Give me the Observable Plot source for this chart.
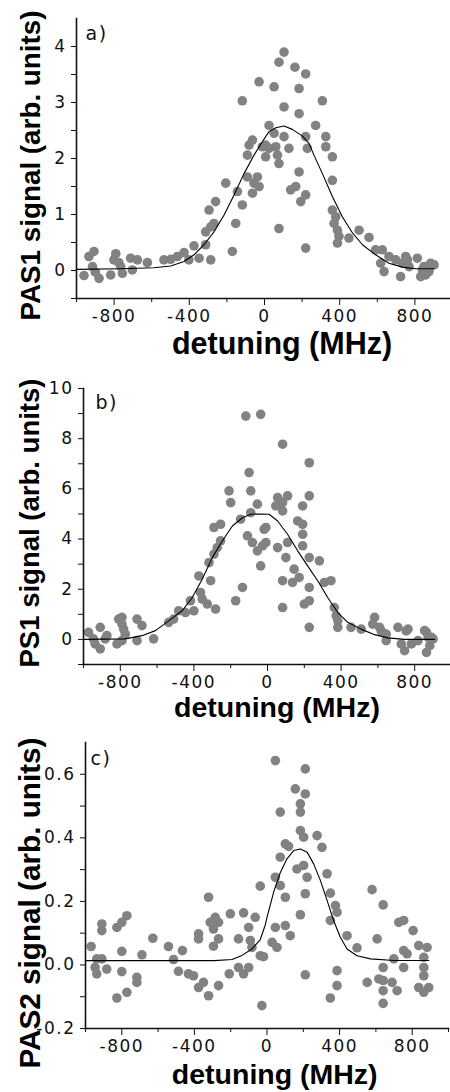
<!DOCTYPE html>
<html><head><meta charset="utf-8">
<script src="https://cdn.jsdelivr.net/npm/d3@7"></script>
<script src="https://cdn.jsdelivr.net/npm/@observablehq/plot@0.6"></script>
<style>
body{margin:0;background:#fff;}
#chart svg{display:block;}
</style></head><body><div id="chart"></div>
<script>
// ---- Shared x axis ticks ----
const xMajor = [-800, -400, 0, 400, 800];
const xMajorLabels = ["-800", "-400", "0", "400", "800"];
const xMinor = [-1000, -600, -200, 200, 600, 1000];

// ---- Panel a) PAS1 ----
const aPointX = [-960,-934,-907,-915,-880,-900,-818,-801,-791,-765,-756,-775,-712,-676,-623,-703,-535,-499,-463,-428,-402,-375,-348,-313,-286,-313,-286,-269,-295,-260,-206,-171,-153,-144,-118,-118,-91,-91,-82,-64,-56,-64,-29,-38,-29,-11,6,6,24,24,51,51,60,69,77,77,77,104,104,104,130,139,166,162,184,184,184,193,219,219,219,228,219,272,308,326,326,361,361,361,379,370,388,396,388,449,503,556,591,627,618,636,662,698,724,734,751,769,760,813,831,848,875,884,857,902,840];
const aPointY = [-0.09,0.25,0.34,0.07,-0.14,-0.03,-0.08,0.19,0.30,0.07,-0.05,0.14,0.22,0.19,0.14,0.01,0.19,0.20,0.25,0.32,0.19,0.44,0.22,0.46,0.19,0.69,0.78,0.84,1.08,1.23,1.56,0.34,0.84,1.41,1.17,3.03,2.06,1.67,2.24,2.33,1.56,1.38,3.37,1.67,1.50,2.21,2.24,2.03,2.59,2.18,3.28,2.45,2.21,2.06,1.91,3.72,0.75,3.90,2.92,2.39,2.18,1.44,1.50,3.63,2.80,3.25,1.76,1.23,1.35,3.51,2.39,2.18,0.40,2.59,3.03,2.39,2.21,2.03,1.61,1.08,0.96,0.84,0.72,0.61,0.49,0.58,0.72,0.59,0.37,0.37,0.13,-0.02,0.25,0.19,-0.11,0.13,0.25,0.07,0.19,0.22,-0.11,0.07,-0.02,0.13,-0.08,0.10,0.01];
const aFitX = [-1000,-765,-588,-499,-428,-375,-322,-269,-215,-162,-109,-56,-15,24,60,104,148,202,237,263,308,361,414,468,521,591,662,734,804,902];
const aFitY = [0.02,0.03,0.05,0.08,0.16,0.28,0.46,0.69,0.99,1.35,1.73,2.06,2.28,2.48,2.55,2.58,2.52,2.40,2.27,2.06,1.73,1.32,0.96,0.67,0.46,0.28,0.13,0.06,0.03,0.03];
const aYMajor = [0, 1, 2, 3, 4];
const aYMajorLabels = ["0", "1", "2", "3", "4"];
const aYMinor = [-0.5, 0.5, 1.5, 2.5, 3.5];

// ---- Panel b) PS1 ----
const bPointX = [-973,-946,-937,-909,-909,-882,-873,-818,-809,-791,-782,-773,-791,-791,-709,-682,-709,-619,-537,-510,-483,-446,-419,-400,-373,-364,-355,-327,-309,-282,-318,-291,-273,-255,-291,-255,-209,-200,-173,-146,-136,-118,-109,-100,-91,-91,-82,-55,-55,-37,-37,-27,-18,-9,-9,82,55,45,82,109,82,55,109,100,145,82,136,172,82,200,227,227,227,227,191,164,191,191,191,227,227,282,309,345,363,373,382,382,454,509,572,582,609,618,645,645,709,727,754,764,782,745,818,854,864,873,882,891,900,864];
const bPointY = [0.28,0.02,-0.18,0.48,-0.38,0.02,0.15,-0.18,0.81,0.88,0.41,0.21,-0.05,0.61,0.81,0.55,-0.05,0.02,0.68,0.81,1.14,1.07,1.54,1.14,2.53,1.87,1.61,1.41,2.34,1.21,3.06,3.40,3.66,3.93,4.46,4.59,5.92,5.45,1.54,4.79,2.07,8.90,4.13,6.65,5.92,5.05,3.86,5.39,3.53,8.97,2.93,3.73,4.39,4.46,3.86,7.78,5.65,5.32,5.45,5.72,5.12,3.66,3.86,3.26,2.80,2.34,2.27,2.47,1.27,1.41,1.54,0.48,7.04,5.72,5.32,4.72,4.59,4.19,3.73,3.26,2.07,3.13,2.27,2.34,1.27,0.94,0.48,0.74,0.48,0.41,0.61,0.88,0.48,0.34,0.21,-0.05,0.48,-0.18,0.34,0.41,-0.18,-0.45,-0.05,0.35,0.28,0.08,-0.25,0.08,0.02,-0.52];
const bFitX = [-1000,-773,-682,-609,-537,-464,-409,-355,-300,-245,-191,-136,-91,-37,9,55,109,164,218,273,327,382,436,509,582,655,745,909];
const bFitY = [0,0.02,0.15,0.35,0.74,1.14,1.67,2.40,3.26,3.93,4.52,4.85,4.99,5.00,4.99,4.72,4.19,3.53,2.93,2.34,1.67,1.07,0.68,0.41,0.19,0.06,0,0];
const bYMajor = [0, 2, 4, 6, 8, 10];
const bYMajorLabels = ["0", "2", "4", "6", "8", "10"];
const bYMinor = [-1, 1, 3, 5, 7, 9];

// ---- Panel c) PAS2 ----
const cPointX = [-969,-938,-947,-938,-910,-910,-910,-883,-827,-800,-772,-800,-800,-827,-772,-717,-717,-689,-629,-543,-515,-466,-488,-433,-405,-377,-377,-377,-350,-322,-322,-313,-285,-267,-295,-267,-295,-267,-202,-208,-157,-157,-129,-129,-101,-101,-92,-65,-83,-37,-37,-28,46,211,156,211,184,184,73,184,202,276,303,101,119,73,165,202,221,331,46,73,101,211,349,377,386,349,184,46,101,128,28,55,-19,441,496,579,640,607,726,753,805,753,772,753,699,640,836,882,864,864,864,836,891,864,386,386,349,211,552,616,640,689,717,640,640];
const cPointY = [0.058,0.019,-0.008,-0.028,0.019,0.129,0.108,-0.013,0.118,0.134,0.155,0.043,-0.021,-0.104,-0.086,-0.039,-0.055,0.032,0.084,0.058,0.017,0.045,-0.020,-0.028,-0.034,0.098,0.082,-0.071,-0.055,-0.097,0.213,0.134,0.150,0.134,0.113,0.082,0.059,-0.065,0.161,-0.028,0.082,-0.008,0.164,-0.028,0.118,-0.008,0.077,0.150,0.055,0.248,0.029,-0.128,0.643,0.617,0.554,0.538,0.507,0.481,0.481,0.423,0.402,0.407,0.370,0.381,0.373,0.339,0.302,0.313,0.276,0.287,0.276,0.250,0.213,0.224,0.226,0.187,0.166,0.140,0.158,0.118,0.124,0.092,0.071,0.055,0.026,0.092,0.054,0.237,0.189,0.082,0.134,0.140,0.108,0.045,0.035,-0.008,0.019,-0.008,0.061,0.055,0.024,-0.008,-0.034,-0.071,-0.071,-0.086,-0.018,-0.065,-0.104,-0.031,-0.055,-0.044,-0.049,-0.055,-0.081,-0.081,-0.121];
const cFitX = [-1000,-290,-193,-138,-83,-37,-10,0,37,73,110,147,184,221,257,294,331,367,404,441,496,570,699,891];
const cFitY = [0.0135,0.0135,0.017,0.030,0.050,0.080,0.125,0.150,0.230,0.290,0.334,0.360,0.365,0.355,0.318,0.266,0.203,0.140,0.087,0.050,0.029,0.019,0.014,0.014];
const cYMajor = [-0.2, 0, 0.2, 0.4, 0.6];
const cYMajorLabels = ["-0.2", "0.0", "0.2", "0.4", "0.6"];
const cYMinor = [-0.1, 0.1, 0.3, 0.5];

const tickFont = "DejaVu Sans, sans-serif";
const titleFont = "Liberation Sans, Arial, sans-serif";

function panel(cfg) {
  const pts = cfg.px.map((x, i) => ({x, y: cfg.py[i]}));
  const fit = cfg.fx.map((x, i) => ({x, y: cfg.fy[i]}));
  const svg = Plot.plot({
    width: 450,
    height: cfg.height,
    marginLeft: cfg.ml, marginRight: cfg.mr, marginTop: cfg.mt, marginBottom: cfg.mb,
    style: {background: "#fff", overflow: "visible", color: "#111"},
    x: {domain: [-1000, 1000], label: null},
    y: {domain: cfg.yDomain, label: null},
    marks: [
      Plot.dot(pts, {x: "x", y: "y", r: 4.8, fill: "#828282", stroke: null}),
      Plot.line(fit, {x: "x", y: "y", stroke: "#000", strokeWidth: 1.1}),
      Plot.frame({anchor: "left", stroke: "#111", strokeWidth: 1.6}),
      Plot.frame({anchor: "bottom", stroke: "#111", strokeWidth: 1.6}),
      Plot.axisX({ticks: xMajor, tickFormat: d => xMajorLabels[xMajor.indexOf(d)], tickSize: 7, tickPadding: 4,
        fontSize: 17, fontFamily: tickFont, label: null, stroke: "#111", fill: "#111"}),
      Plot.axisX({ticks: xMinor, tickSize: 4, fill: "none", label: null, stroke: "#111"}),
      Plot.axisY({ticks: cfg.yMajor, tickFormat: d => cfg.yLabels[cfg.yMajor.indexOf(d)], tickSize: 5, tickPadding: 5,
        fontSize: 17, fontFamily: tickFont, label: null, stroke: "#111", fill: "#111"}),
      Plot.axisY({ticks: cfg.yMinor, tickSize: 5, fill: "none", label: null, stroke: "#111"}),
      Plot.text([cfg.yTitle], {frameAnchor: "left", textAnchor: "middle", lineAnchor: "middle", rotate: -90,
        dx: cfg.ytx, dy: cfg.yty, fontSize: cfg.ySize, fontWeight: "bold", fontFamily: titleFont, fill: "#000"}),
      Plot.text([cfg.xTitle], {frameAnchor: "bottom", textAnchor: "middle", lineAnchor: "middle",
        dx: cfg.xtx, dy: cfg.xty, fontSize: cfg.xSize, fontWeight: "bold", fontFamily: titleFont, fill: "#000"}),
      Plot.text([cfg.tag], {frameAnchor: "top-left", textAnchor: "start", lineAnchor: "middle", dx: cfg.tx, dy: cfg.ty,
        fontSize: 19, fontFamily: tickFont, fill: "#111"})
    ]
  });
  const spaced = new Set([...xMajorLabels, ...cfg.yLabels, cfg.tag]);
  d3.select(svg).selectAll("text").each(function() {
    const t = this.textContent;
    if (t === cfg.yTitle) {
      // rotated title: match the reference's length exactly
      d3.select(this).attr("textLength", cfg.yLen).attr("lengthAdjust", "spacingAndGlyphs");
    } else if (spaced.has(t)) {
      d3.select(this).style("letter-spacing", "1.5px");
    }
  });
  return svg;
}

const root = document.getElementById("chart");
root.append(panel({height: 360, ml: 76, mr: -2, mt: 18, mb: 62, yDomain: [-0.5, 4.5],
  px: aPointX, py: aPointY, fx: aFitX, fy: aFitY, yMajor: aYMajor, yLabels: aYMajorLabels, yMinor: aYMinor,
  yTitle: "PAS1 signal (arb. units)", ySize: 28, yLen: 310, ytx: -45.5, yty: 7,
  xTitle: "detuning (MHz)", xSize: 30.5, xtx: 17.5, xty: 45.4, tag: "a)", tx: 9, ty: 15}));
root.append(panel({height: 360, ml: 83, mr: -1, mt: 28, mb: 56, yDomain: [-1, 10],
  px: bPointX, py: bPointY, fx: bFitX, fy: bFitY, yMajor: bYMajor, yLabels: bYMajorLabels, yMinor: bYMinor,
  yTitle: "PS1 signal (arb. units)", ySize: 28, yLen: 289, ytx: -53, yty: -3.5,
  xTitle: "detuning (MHz)", xSize: 28.5, xtx: 9.5, xty: 43, tag: "b)", tx: 12, ty: 14}));
root.append(panel({height: 372, ml: 85, mr: 2, mt: 22, mb: 64, yDomain: [-0.2, 0.7],
  px: cPointX, py: cPointY, fx: cFitX, fy: cFitY, yMajor: cYMajor, yLabels: cYMajorLabels, yMinor: cYMinor,
  yTitle: "PAS2 signal (arb. units)", ySize: 29.5, yLen: 331, ytx: -55, yty: 17.5,
  xTitle: "detuning (MHz)", xSize: 28.5, xtx: 7.7, xty: 46, tag: "c)", tx: 5, ty: 16}));
</script></body></html>
